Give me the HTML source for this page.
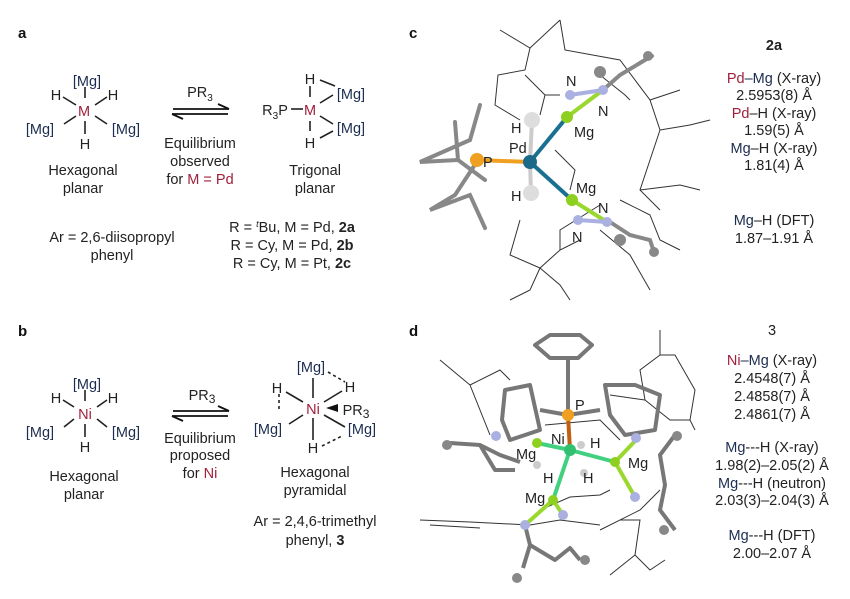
<!DOCTYPE html>
<html><head><meta charset="utf-8"><style>
html,body{margin:0;padding:0;background:#fff}
svg{display:block}
text{font-family:"Liberation Sans",sans-serif;font-size:14.5px;fill:#222}
.b{font-weight:bold;font-size:15px;fill:#111}
.n{fill:#1c2d50}
.r{fill:#a0203c}
.c{text-anchor:middle}
</style></head><body>
<svg width="850" height="599" viewBox="0 0 850 599" xmlns="http://www.w3.org/2000/svg">
<!-- panel labels -->
<text x="18" y="38" class="b">a</text>
<text x="18" y="336" class="b">b</text>
<text x="409" y="38" class="b">c</text>
<text x="409" y="336" class="b">d</text>

<!-- a left structure -->
<g stroke="#222" stroke-width="1.6">
<line x1="85" y1="87" x2="85" y2="98"/><line x1="85" y1="121" x2="85" y2="134"/>
<line x1="63" y1="97" x2="76" y2="105"/><line x1="95" y1="105" x2="107" y2="97"/>
<line x1="64" y1="124" x2="76" y2="116"/><line x1="95" y1="116" x2="107" y2="124"/>
</g>
<text x="87" y="86" class="c n">[Mg]</text>
<text x="56" y="100" class="c">H</text><text x="113" y="100" class="c">H</text>
<text x="84" y="116" class="c r">M</text>
<text x="40" y="134" class="c n">[Mg]</text><text x="126" y="134" class="c n">[Mg]</text>
<text x="85" y="149" class="c">H</text>
<text x="83" y="175" class="c">Hexagonal</text><text x="83" y="193" class="c">planar</text>
<!-- arrows a -->
<g stroke="#111" stroke-width="1.8" fill="none">
<line x1="173" y1="109" x2="229" y2="109"/><line x1="229" y1="109" x2="218" y2="104"/>
<line x1="172" y1="114" x2="228" y2="114"/><line x1="172" y1="114" x2="183" y2="119"/>
</g>
<text x="200" y="97" class="c">PR<tspan font-size="10" dy="4">3</tspan></text>
<text x="200" y="148" class="c">Equilibrium</text>
<text x="200" y="166" class="c">observed</text>
<text x="200" y="184" class="c">for <tspan class="r">M = Pd</tspan></text>
<!-- a right structure -->
<g stroke="#222" stroke-width="1.6">
<line x1="291" y1="109" x2="303" y2="109"/>
<line x1="310" y1="86" x2="310" y2="97"/><line x1="310" y1="121" x2="310" y2="131"/>
<line x1="320" y1="80" x2="335" y2="86"/><line x1="320" y1="103" x2="333" y2="95"/>
<line x1="320" y1="116" x2="333" y2="124"/><line x1="320" y1="138" x2="333" y2="131"/>
</g>
<text x="275" y="115" class="c">R<tspan font-size="10" dy="4">3</tspan><tspan dy="-4">P</tspan></text>
<text x="310" y="84" class="c">H</text>
<text x="310" y="115" class="c r">M</text>
<text x="351" y="99" class="c n">[Mg]</text><text x="351" y="133" class="c n">[Mg]</text>
<text x="310" y="148" class="c">H</text>
<text x="315" y="175" class="c">Trigonal</text><text x="315" y="193" class="c">planar</text>
<text x="112" y="242" class="c">Ar = 2,6-diisopropyl</text>
<text x="112" y="260" class="c">phenyl</text>
<text x="292" y="232" class="c">R = <tspan font-size="9" dy="-5" font-style="italic">t</tspan><tspan dy="5">Bu, M = Pd, </tspan><tspan font-weight="bold">2a</tspan></text>
<text x="292" y="250" class="c">R = Cy, M = Pd, <tspan font-weight="bold">2b</tspan></text>
<text x="292" y="268" class="c">R = Cy, M = Pt, <tspan font-weight="bold">2c</tspan></text>

<!-- b left -->
<g stroke="#222" stroke-width="1.6">
<line x1="85" y1="390" x2="85" y2="401"/><line x1="85" y1="424" x2="85" y2="437"/>
<line x1="63" y1="400" x2="74" y2="407"/><line x1="97" y1="407" x2="107" y2="400"/>
<line x1="64" y1="427" x2="74" y2="419"/><line x1="97" y1="419" x2="107" y2="427"/>
</g>
<text x="87" y="389" class="c n">[Mg]</text>
<text x="56" y="403" class="c">H</text><text x="113" y="403" class="c">H</text>
<text x="85" y="419" class="c r">Ni</text>
<text x="40" y="437" class="c n">[Mg]</text><text x="126" y="437" class="c n">[Mg]</text>
<text x="85" y="452" class="c">H</text>
<text x="84" y="481" class="c">Hexagonal</text><text x="84" y="499" class="c">planar</text>
<g stroke="#111" stroke-width="1.8" fill="none">
<line x1="173" y1="411" x2="229" y2="411"/><line x1="229" y1="411" x2="218" y2="406"/>
<line x1="172" y1="416" x2="228" y2="416"/><line x1="172" y1="416" x2="183" y2="421"/>
</g>
<text x="202" y="400" class="c">PR<tspan font-size="12" dy="3">3</tspan></text>
<text x="200" y="443" class="c">Equilibrium</text>
<text x="200" y="460" class="c">proposed</text>
<text x="200" y="478" class="c">for <tspan class="r">Ni</tspan></text>
<!-- b right -->
<g stroke="#222" stroke-width="1.6">
<line x1="313" y1="378" x2="313" y2="398"/><line x1="313" y1="418" x2="313" y2="440"/>
<line x1="286" y1="392" x2="303" y2="402"/><line x1="324" y1="402" x2="342" y2="391"/>
<line x1="289" y1="424" x2="303" y2="415"/><line x1="324" y1="415" x2="345" y2="427"/>
<line x1="279" y1="394" x2="279" y2="412" stroke-dasharray="3,3"/>
<line x1="328" y1="372" x2="345" y2="382" stroke-dasharray="3,3"/>
<line x1="322" y1="446" x2="342" y2="436" stroke-dasharray="3,3"/>
</g>
<polygon points="326,408 338,404 338,412" fill="#111"/>
<text x="311" y="372" class="c n">[Mg]</text>
<text x="277" y="393" class="c">H</text><text x="350" y="392" class="c">H</text>
<text x="313" y="414" class="c r">Ni</text>
<text x="356" y="415" class="c">PR<tspan font-size="12" dy="3">3</tspan></text>
<text x="268" y="434" class="c n">[Mg]</text><text x="362" y="434" class="c n">[Mg]</text>
<text x="313" y="453" class="c">H</text>
<text x="315" y="477" class="c">Hexagonal</text><text x="315" y="495" class="c">pyramidal</text>
<text x="315" y="526" class="c">Ar = 2,4,6-trimethyl</text>
<text x="315" y="545" class="c">phenyl, <tspan font-weight="bold">3</tspan></text>

<!-- c molecule -->
<g stroke="#333" stroke-width="1" fill="none">
<polyline points="500,30 530,48 560,20"/><polyline points="530,48 525,70 498,75 495,105 520,120"/>
<polyline points="560,20 565,50 620,60 650,100 660,130"/><polyline points="650,100 680,90"/>
<polyline points="660,130 690,125 710,120"/><polyline points="660,130 650,160 640,190 660,210"/>
<polyline points="640,190 680,185 700,190"/><polyline points="600,230 630,255 650,290"/>
<polyline points="525,75 545,95 560,95"/><polyline points="545,95 540,115"/>
<polyline points="520,220 510,255 540,268 560,250 580,240"/><polyline points="540,268 530,290 510,300"/>
<polyline points="540,268 560,285 570,300"/><polyline points="560,250 560,230 600,205"/>
<polyline points="555,150 575,170 570,190"/><polyline points="600,75 625,95 630,100"/>
<polyline points="620,200 650,215 660,240 680,250"/>
</g>
<g stroke="#888" stroke-width="4" fill="none" stroke-linecap="round">
<polyline points="455,122 458,160 420,162 470,140 480,105"/>
<polyline points="478,160 455,195 430,210 470,195 485,228"/>
<polyline points="458,160 485,180"/>
<polyline points="603,90 620,75 645,60 652,56"/><polyline points="610,222 630,235 650,240 654,252"/>
</g>
<g stroke-width="4" stroke-linecap="round">
<line x1="477" y1="160" x2="530" y2="162" stroke="#f0a020"/>
<line x1="530" y1="162" x2="567" y2="117" stroke="#1a7090"/>
<line x1="530" y1="162" x2="572" y2="200" stroke="#1a7090"/>
<line x1="567" y1="117" x2="603" y2="90" stroke="#9ad830"/>
<line x1="572" y1="200" x2="607" y2="222" stroke="#9ad830"/>
<line x1="570" y1="95" x2="603" y2="90" stroke="#aab0e0"/>
<line x1="578" y1="220" x2="607" y2="222" stroke="#aab0e0"/>
<line x1="532" y1="120" x2="530" y2="162" stroke="#ccc"/>
<line x1="531" y1="193" x2="530" y2="162" stroke="#ccc"/>
</g>
<circle cx="477" cy="160" r="7" fill="#f0a020"/>
<circle cx="530" cy="162" r="7" fill="#1a6a88"/>
<circle cx="532" cy="120" r="8" fill="#ddd"/><circle cx="531" cy="193" r="8" fill="#ddd"/>
<circle cx="567" cy="117" r="6" fill="#8ed020"/><circle cx="572" cy="200" r="6" fill="#8ed020"/>
<circle cx="570" cy="95" r="5" fill="#aab0e0"/><circle cx="603" cy="90" r="5" fill="#aab0e0"/>
<circle cx="578" cy="220" r="5" fill="#aab0e0"/><circle cx="607" cy="222" r="5" fill="#aab0e0"/>
<circle cx="648" cy="56" r="5" fill="#888"/><circle cx="654" cy="252" r="5" fill="#888"/>
<circle cx="600" cy="72" r="6" fill="#888"/><circle cx="620" cy="240" r="6" fill="#888"/>
<text x="483" y="167">P</text><text x="509" y="153">Pd</text>
<text x="511" y="133">H</text><text x="511" y="201">H</text>
<text x="574" y="137">Mg</text><text x="576" y="193">Mg</text>
<text x="566" y="86">N</text><text x="598" y="116">N</text>
<text x="598" y="213">N</text><text x="572" y="242">N</text>
<!-- c text -->
<text x="774" y="50" class="c" font-weight="bold">2a</text>
<text x="774" y="83" class="c"><tspan class="r">Pd</tspan><tspan class="n">–Mg</tspan> (X-ray)</text>
<text x="774" y="100" class="c">2.5953(8) Å</text>
<text x="774" y="118" class="c"><tspan class="r">Pd</tspan>–H (X-ray)</text>
<text x="774" y="135" class="c">1.59(5) Å</text>
<text x="774" y="153" class="c"><tspan class="n">Mg</tspan>–H (X-ray)</text>
<text x="774" y="170" class="c">1.81(4) Å</text>
<text x="774" y="225" class="c"><tspan class="n">Mg</tspan>–H (DFT)</text>
<text x="774" y="243" class="c">1.87–1.91 Å</text>

<!-- d molecule -->
<g stroke="#333" stroke-width="1" fill="none">
<polyline points="440,360 470,385 480,410 490,435"/><polyline points="470,385 500,370 510,380"/>
<polyline points="660,330 660,355 640,370 645,400 670,420 690,420 695,390 675,355 660,355"/>
<polyline points="690,420 695,430"/><polyline points="645,400 610,395"/>
<polyline points="420,520 470,522 530,525 560,520 600,525"/><polyline points="430,525 480,528"/>
<polyline points="620,520 640,520 635,555 650,570 665,560"/><polyline points="635,555 610,575"/>
<polyline points="600,530 640,510 660,490"/><polyline points="545,425 600,420 620,440"/>
<polyline points="540,510 570,497 600,495 610,490"/>
</g>
<g stroke="#777" stroke-width="4" fill="none" stroke-linejoin="round">
<polygon points="535,345 550,335 580,335 592,345 578,358 550,358"/>
<polygon points="505,390 530,385 540,430 510,440 502,420"/>
<polygon points="605,385 635,385 660,395 655,430 625,435 610,415"/>
<polyline points="568,358 568,415 540,410"/><polyline points="568,415 600,410"/>
<polyline points="450,443 480,445 500,455 520,462"/><polyline points="480,445 495,470 515,470"/>
<polyline points="675,435 660,455 665,485 660,510 675,530"/>
<polyline points="523,568 530,545 555,560 570,548 580,560"/>
<polyline points="530,545 525,525"/>
</g>
<g stroke-width="4" stroke-linecap="round">
<line x1="568" y1="415" x2="570" y2="450" stroke="#c06010"/>
<line x1="570" y1="450" x2="537" y2="443" stroke="#40d080"/>
<line x1="570" y1="450" x2="615" y2="462" stroke="#40d080"/>
<line x1="570" y1="450" x2="553" y2="500" stroke="#40d080"/>
<line x1="615" y1="462" x2="636" y2="440" stroke="#9ad830"/>
<line x1="615" y1="462" x2="635" y2="497" stroke="#9ad830"/>
<line x1="553" y1="500" x2="525" y2="525" stroke="#9ad830"/>
<line x1="553" y1="500" x2="563" y2="515" stroke="#9ad830"/>
</g>
<circle cx="568" cy="415" r="6" fill="#f0a020"/>
<circle cx="570" cy="450" r="6" fill="#30c070"/>
<circle cx="537" cy="443" r="5" fill="#8ed020"/><circle cx="615" cy="462" r="5" fill="#8ed020"/><circle cx="553" cy="500" r="5" fill="#8ed020"/>
<circle cx="636" cy="438" r="5" fill="#aab0e0"/><circle cx="635" cy="497" r="5" fill="#aab0e0"/>
<circle cx="525" cy="525" r="5" fill="#aab0e0"/><circle cx="563" cy="515" r="5" fill="#aab0e0"/><circle cx="496" cy="436" r="5" fill="#aab0e0"/>
<circle cx="581" cy="445" r="4" fill="#ccc"/><circle cx="537" cy="465" r="4" fill="#ccc"/><circle cx="584" cy="473" r="4" fill="#ccc"/>
<circle cx="447" cy="445" r="5" fill="#888"/><circle cx="677" cy="436" r="5" fill="#888"/><circle cx="517" cy="578" r="5" fill="#888"/><circle cx="585" cy="560" r="5" fill="#888"/><circle cx="664" cy="530" r="5" fill="#888"/>
<text x="575" y="410">P</text><text x="551" y="444">Ni</text><text x="590" y="448">H</text>
<text x="516" y="459">Mg</text><text x="628" y="468">Mg</text>
<text x="543" y="483">H</text><text x="583" y="483">H</text><text x="525" y="503">Mg</text>
<!-- d text -->
<text x="772" y="335" class="c">3</text>
<text x="772" y="365" class="c"><tspan class="r">Ni</tspan><tspan class="n">–Mg</tspan> (X-ray)</text>
<text x="772" y="383" class="c">2.4548(7) Å</text>
<text x="772" y="401" class="c">2.4858(7) Å</text>
<text x="772" y="419" class="c">2.4861(7) Å</text>
<text x="772" y="452" class="c"><tspan class="n">Mg</tspan>---H (X-ray)</text>
<text x="772" y="470" class="c">1.98(2)–2.05(2) Å</text>
<text x="772" y="488" class="c"><tspan class="n">Mg</tspan>---H (neutron)</text>
<text x="772" y="505" class="c">2.03(3)–2.04(3) Å</text>
<text x="772" y="540" class="c"><tspan class="n">Mg</tspan>---H (DFT)</text>
<text x="772" y="558" class="c">2.00–2.07 Å</text>
</svg>
</body></html>
